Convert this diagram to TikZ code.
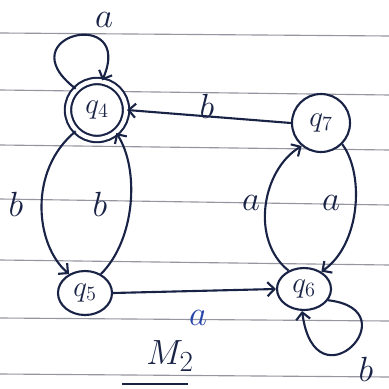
\documentclass[tikz,border=0pt]{standalone}
\usetikzlibrary{arrows.meta,shapes.geometric}
\definecolor{ink}{RGB}{25,35,70}
\definecolor{rulegray}{RGB}{150,150,160}
\definecolor{blueink}{RGB}{40,70,170}
\tikzset{
  statenode/.style={draw=ink, line width=1.5pt, fill=white, inner sep=0pt, text=ink,
    font=\fontsize{22}{26}\selectfont},
  roundstate/.style={statenode, circle},
  ovalstate/.style={statenode, ellipse},
  accstate/.style={roundstate, double=white, double distance=3pt},
  edge/.style={draw=ink, line width=1.5pt, ->},
  elabel/.style={text=ink, inner sep=0pt, font=\fontsize{28}{30}\selectfont},
  paperline/.style={draw=rulegray, line width=0.8pt},
}
\begin{document}
\begin{tikzpicture}[x=0.25mm,y=-0.25mm, >={Straight Barb[length=5pt,width=10pt]}]
\useasboundingbox[fill=white] (0,0) rectangle (389,389);
\foreach \ya/\yb in {33/36,90/95,145/150,199/205,260/265,318/321,374/377}
  \draw[paperline] (0,\ya) -- (389,\yb);
% states
\node[accstate, minimum size=14.5mm] (q4) at (97,110) {$q_4$};
\node[roundstate, minimum size=14.5mm] (q7) at (321,123) {$q_7$};
\node[ovalstate, minimum width=13.5mm, minimum height=11mm] (q5) at (85,293) {$q_5$};
\node[ovalstate, minimum width=13.5mm, minimum height=10.5mm] (q6) at (304,289) {$q_6$};
% edges
\draw[edge] (q4.135) .. controls (5,35) and (135,5) .. (q4.80);
\draw[edge] (q7.west) -- (q4.east);
\draw[edge] (q4.225) .. controls (28,170) and (35,245) .. (q5.130);
\draw[edge] (q5.50) .. controls (135,240) and (140,170) .. (q4.310);
\draw[edge] (q6.130) .. controls (250,240) and (262,170) .. (q7.230);
\draw[edge] (q7.315) .. controls (365,175) and (360,245) .. (q6.45);
\draw[edge] (q5.east) -- (q6.west);
\draw[edge] (q6.335) .. controls (412,310) and (315,410) .. (q6.265);
% labels
\node[elabel] (la1) at (104,20) {$a$};
\node[elabel] (lb1) at (207,106) {$b$};
\node[elabel] (lb2) at (16,204) {$b$};
\node[elabel] (lb3) at (100,204) {$b$};
\node[elabel] (la2) at (251,203) {$a$};
\node[elabel] (la3) at (331,203) {$a$};
\node[elabel, text=blueink] (la4) at (198,318) {$a$};
\node[elabel] (lb4) at (366,369) {$b$};
\node[elabel] (m2) at (170,356) {$M_2$};
\draw[draw=ink, line width=1.5pt] (122,384) -- (188,384);
\end{tikzpicture}
\end{document}
